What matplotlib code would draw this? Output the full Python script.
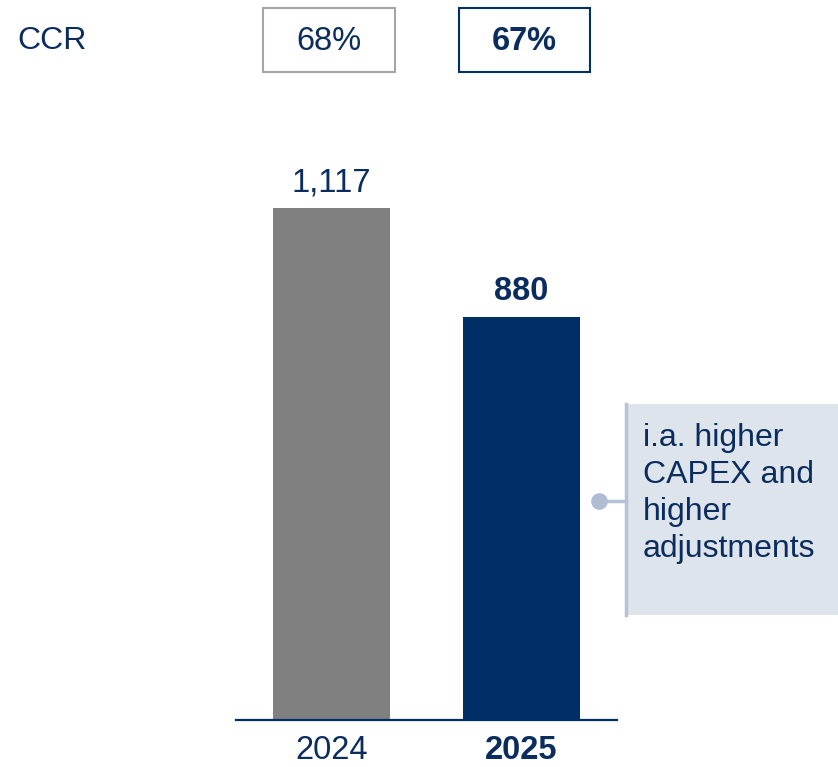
import matplotlib
matplotlib.use("Agg")
import matplotlib.pyplot as plt
from matplotlib.patches import Rectangle
from matplotlib.lines import Line2D

years = ["2024", "2025"]
values = [1117, 880]
value_labels = ["1,117", "880"]
ccr_labels = ["68%", "67%"]
note_text = "i.a. higher\nCAPEX and\nhigher\nadjustments"

NAVY = "#002F67"
TEXT = "#0B2D5E"
GRAY = "#808080"

plt.rcParams['font.family'] = ['Liberation Sans', 'DejaVu Sans']

W, H = 838, 767
fig = plt.figure(figsize=(W / 100, H / 100), dpi=100)

def fx(x):
    return x / W

def fy(y):
    return 1 - y / H

ax = fig.add_axes([fx(236), fy(720), (617 - 236) / W, 570 / H])
bar_colors = [GRAY, NAVY]
bars = ax.bar([0, 1], values, width=0.616, color=bar_colors)
ax.set_xlim(-0.5026, 1.5026)
ax.set_ylim(0, 1243.5)
for s in ["top", "right", "left"]:
    ax.spines[s].set_visible(False)
ax.spines["bottom"].set_color(NAVY)
ax.spines["bottom"].set_linewidth(1.6)
ax.set_yticks([])
ax.set_xticks([0, 1])
ax.set_xticklabels(years, fontsize=23.5, color=TEXT)
ax.tick_params(axis="x", length=0, pad=11)
ax.get_xticklabels()[1].set_fontweight("bold")

for i, (b, lab) in enumerate(zip(bars, value_labels)):
    ax.annotate(lab, (b.get_x() + b.get_width() / 2, b.get_height()),
                xytext=(0, 7), textcoords="offset points", ha="center", va="bottom",
                fontsize=23.5, color=TEXT, fontweight="bold" if i == 1 else "normal")

# CCR row
fig.text(fx(17), fy(41), "CCR", fontsize=23, color=TEXT, ha="left", va="center")
box_specs = [(263, 395, "#A6A6A6", "normal"), (459, 590, NAVY, "bold")]
for (x0, x1, ec, fw), lab in zip(box_specs, ccr_labels):
    fig.patches.append(Rectangle((fx(x0), fy(72)), (x1 - x0) / W, 64 / H,
                                 transform=fig.transFigure, facecolor="white",
                                 edgecolor=ec, linewidth=1.5))
    fig.text(fx((x0 + x1) / 2), fy(42), lab, fontsize=23.5, color=TEXT,
             ha="center", va="center", fontweight=fw)

# annotation box
fig.patches.append(Rectangle((fx(625), fy(615)), (838 - 625) / W, (615 - 404) / H,
                             transform=fig.transFigure, facecolor="#DEE4EC",
                             edgecolor="none"))
fig.lines.append(Line2D([fx(626), fx(626)], [fy(404), fy(615)], transform=fig.transFigure,
                        color="#B6C3D5", linewidth=2.5))
fig.lines.append(Line2D([fx(599), fx(626)], [fy(501), fy(501)], transform=fig.transFigure,
                        color="#B6C3D5", linewidth=2.5))
fig.lines.append(Line2D([fx(599)], [fy(501)], transform=fig.transFigure, marker="o",
                        markersize=11, color="#B0BDD1", linestyle="none"))
fig.text(fx(643), fy(423), note_text, fontsize=23, color=TEXT, ha="left", va="top",
         linespacing=1.31)

fig.savefig("out.png", dpi=100)
